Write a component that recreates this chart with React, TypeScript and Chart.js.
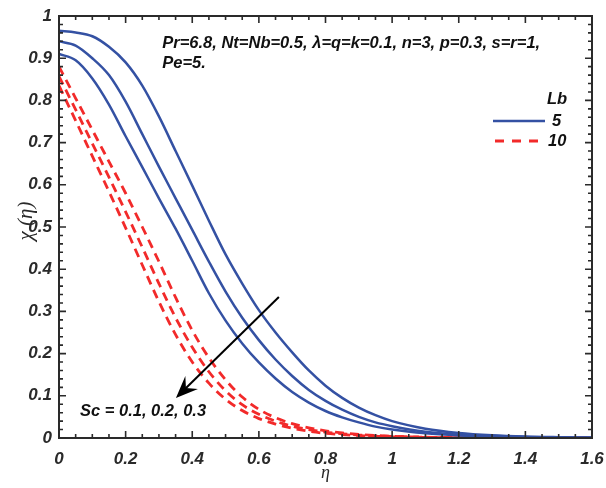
import React, { useEffect, useRef } from "react";
import { Chart, registerables } from "chart.js";

Chart.register(...registerables);

// η grid shared by every curve
const etaGrid = [
  0, 0.05, 0.1, 0.15, 0.2, 0.25, 0.3, 0.35, 0.4, 0.45, 0.5, 0.55, 0.6, 0.65, 0.7, 0.75, 0.8, 0.85, 0.9, 0.95, 1.0,
  1.1, 1.2, 1.3, 1.4, 1.5, 1.6,
];

// Lb = 5 (solid blue), Sc = 0.1, 0.2, 0.3
const lb5Sc01 = [
  0.965, 0.961, 0.952, 0.927, 0.89, 0.835, 0.762, 0.68, 0.598, 0.515, 0.435, 0.366, 0.303, 0.25, 0.203, 0.16, 0.124,
  0.095, 0.072, 0.054, 0.04, 0.022, 0.012, 0.0065, 0.0035, 0.002, 0.001,
];
const lb5Sc02 = [
  0.94, 0.93, 0.9, 0.86, 0.797, 0.72, 0.643, 0.568, 0.493, 0.418, 0.347, 0.285, 0.232, 0.186, 0.147, 0.114, 0.088,
  0.067, 0.05, 0.037, 0.028, 0.015, 0.008, 0.0045, 0.0025, 0.0013, 0.0007,
];
const lb5Sc03 = [
  0.91, 0.895, 0.852, 0.79, 0.715, 0.642, 0.568, 0.496, 0.42, 0.343, 0.278, 0.224, 0.179, 0.141, 0.109, 0.084, 0.064,
  0.049, 0.037, 0.027, 0.02, 0.011, 0.006, 0.0033, 0.0018, 0.001, 0.0005,
];

// Lb = 10 (dashed red), Sc = 0.1, 0.2, 0.3
const lb10Sc01 = [
  0.88, 0.805, 0.73, 0.655, 0.58, 0.5, 0.418, 0.333, 0.255, 0.19, 0.138, 0.097, 0.068, 0.048, 0.034, 0.024, 0.017,
  0.012, 0.0085, 0.006, 0.0042, 0.002, 0.001, 0.0005, 0.0003, 0.0002, 0.0001,
];
const lb10Sc02 = [
  0.857, 0.778, 0.698, 0.618, 0.536, 0.452, 0.366, 0.285, 0.215, 0.157, 0.112, 0.079, 0.056, 0.04, 0.028, 0.02, 0.014,
  0.01, 0.007, 0.005, 0.0035, 0.0017, 0.0008, 0.0004, 0.0002, 0.0001, 0.0001,
];
const lb10Sc03 = [
  0.835, 0.752, 0.668, 0.584, 0.498, 0.41, 0.323, 0.245, 0.18, 0.13, 0.092, 0.065, 0.046, 0.033, 0.023, 0.016, 0.011,
  0.008, 0.0057, 0.004, 0.0028, 0.0014, 0.0007, 0.0003, 0.0002, 0.0001, 0,
];

const xTicks = [0, 0.2, 0.4, 0.6, 0.8, 1, 1.2, 1.4, 1.6];
const yTicks = [0, 0.1, 0.2, 0.3, 0.4, 0.5, 0.6, 0.7, 0.8, 0.9, 1];

const paramLine1 = "Pr=6.8, Nt=Nb=0.5, \u03bb=q=k=0.1, n=3, p=0.3, s=r=1,";
const paramLine2 = "Pe=5.";
const arrowLabel = "Sc = 0.1, 0.2, 0.3";
const legendTitle = "Lb";
const legendLabels = ["5", "10"];

const BLUE = "#3451a3";
const RED = "#f22a2a";
const INK = "#2a2a2a";
const ANN_FONT = "italic bold 16.5px 'Liberation Sans', Arial, sans-serif";
const TICK_FONT = { family: "'Liberation Sans', Arial, sans-serif", size: 17, style: "italic" as const, weight: "bold" as const };

const toPts = (vals: number[]) => vals.map((v, i) => ({ x: etaGrid[i], y: v }));
const fmt = (v: number) => String(Math.round(v * 10) / 10);

const framePlugin = {
  id: "frame",
  afterDraw(chart: any) {
    const { ctx, chartArea: a, scales } = chart;
    const xs = scales.x;
    const ys = scales.y;
    ctx.save();
    // box
    ctx.strokeStyle = INK;
    ctx.lineWidth = 2;
    ctx.strokeRect(a.left, a.top, a.right - a.left, a.bottom - a.top);
    // inward ticks
    ctx.lineWidth = 1.6;
    for (let k = 0; k <= 32; k++) {
      const px = xs.getPixelForValue(k * 0.05);
      const len = k % 4 === 0 ? 7 : 4;
      ctx.beginPath();
      ctx.moveTo(px, a.bottom);
      ctx.lineTo(px, a.bottom - len);
      ctx.moveTo(px, a.top);
      ctx.lineTo(px, a.top + len);
      ctx.stroke();
    }
    for (let k = 0; k <= 50; k++) {
      const py = ys.getPixelForValue(k * 0.02);
      const len = k % 5 === 0 ? 7 : 4;
      ctx.beginPath();
      ctx.moveTo(a.left, py);
      ctx.lineTo(a.left + len, py);
      ctx.moveTo(a.right, py);
      ctx.lineTo(a.right - len, py);
      ctx.stroke();
    }
    // axis titles
    ctx.fillStyle = INK;
    ctx.font = "italic 18px 'Liberation Serif', 'Times New Roman', serif";
    ctx.textAlign = "center";
    ctx.textBaseline = "middle";
    ctx.fillText("\u03b7", (a.left + a.right) / 2, 473);
    ctx.save();
    ctx.font = "italic 21px 'Liberation Serif', 'Times New Roman', serif";
    ctx.translate(26, 221);
    ctx.rotate(-Math.PI / 2);
    ctx.fillText("\u03c7 (\u03b7)", 0, 0);
    ctx.restore();

    // parameter annotation
    ctx.fillStyle = "#111";
    ctx.font = ANN_FONT;
    ctx.textAlign = "left";
    ctx.textBaseline = "middle";
    const ax = xs.getPixelForValue(0.31);
    ctx.fillText(paramLine1, ax, ys.getPixelForValue(0.935));
    ctx.fillText(paramLine2, ax, ys.getPixelForValue(0.887));

    // legend
    ctx.fillText(legendTitle, 547, 99);
    ctx.lineWidth = 2.5;
    ctx.strokeStyle = BLUE;
    ctx.beginPath();
    ctx.moveTo(493, 121);
    ctx.lineTo(545, 121);
    ctx.stroke();
    ctx.fillText(legendLabels[0], 552, 121);
    ctx.strokeStyle = RED;
    ctx.lineWidth = 2.8;
    ctx.setLineDash([9, 8]);
    ctx.beginPath();
    ctx.moveTo(495, 141);
    ctx.lineTo(541, 141);
    ctx.stroke();
    ctx.setLineDash([]);
    ctx.fillText(legendLabels[1], 548, 141);

    // arrow
    const x0 = xs.getPixelForValue(0.66);
    const y0 = ys.getPixelForValue(0.334);
    const x1 = xs.getPixelForValue(0.351);
    const y1 = ys.getPixelForValue(0.095);
    const ang = Math.atan2(y1 - y0, x1 - x0);
    ctx.strokeStyle = "#000";
    ctx.fillStyle = "#000";
    ctx.lineWidth = 2;
    ctx.beginPath();
    ctx.moveTo(x0, y0);
    ctx.lineTo(x1 - 12 * Math.cos(ang), y1 - 12 * Math.sin(ang));
    ctx.stroke();
    const hl = 22;
    const hw = 9;
    const bx = x1 - hl * Math.cos(ang);
    const by = y1 - hl * Math.sin(ang);
    const nx = -Math.sin(ang);
    const ny = Math.cos(ang);
    ctx.beginPath();
    ctx.moveTo(x1, y1);
    ctx.lineTo(bx + nx * hw, by + ny * hw);
    ctx.lineTo(x1 - 14 * Math.cos(ang), y1 - 14 * Math.sin(ang));
    ctx.lineTo(bx - nx * hw, by - ny * hw);
    ctx.closePath();
    ctx.fill();

    ctx.fillStyle = "#111";
    ctx.font = ANN_FONT;
    ctx.textAlign = "left";
    ctx.fillText(arrowLabel, 80, 411);
    ctx.restore();
  },
};

export default function App() {
  const ref = useRef<HTMLCanvasElement | null>(null);
  useEffect(() => {
    document.body.style.margin = "0";
    const canvas = ref.current;
    if (!canvas) return;
    const blueDs = (vals: number[]) => ({
      data: toPts(vals),
      borderColor: BLUE,
      borderWidth: 2.5,
      pointRadius: 0,
      fill: false,
      cubicInterpolationMode: "monotone" as const,
    });
    const redDs = (vals: number[]) => ({
      data: toPts(vals),
      borderColor: RED,
      borderWidth: 2.8,
      borderDash: [9, 6],
      pointRadius: 0,
      fill: false,
      cubicInterpolationMode: "monotone" as const,
    });
    const chart = new Chart(canvas, {
      type: "line",
      data: {
        datasets: [
          blueDs(lb5Sc01),
          blueDs(lb5Sc02),
          blueDs(lb5Sc03),
          redDs(lb10Sc01),
          redDs(lb10Sc02),
          redDs(lb10Sc03),
        ],
      },
      options: {
        animation: false,
        responsive: false,
        devicePixelRatio: 1,
        layout: { padding: { top: 16, right: 14, left: 0, bottom: 0 } },
        plugins: { legend: { display: false }, tooltip: { enabled: false } },
        scales: {
          x: {
            type: "linear",
            min: 0,
            max: 1.6,
            afterFit: (s: any) => {
              s.height = 50;
              s.paddingLeft = 0;
              s.paddingRight = 0;
            },
            afterBuildTicks: (s: any) => {
              s.ticks = xTicks.map((v) => ({ value: v }));
            },
            grid: { display: false, drawTicks: false },
            border: { display: false },
            ticks: { color: INK, font: TICK_FONT, padding: 11, maxRotation: 0, callback: (v: any) => fmt(Number(v)) },
          },
          y: {
            type: "linear",
            min: 0,
            max: 1,
            afterFit: (s: any) => {
              s.width = 59;
              s.paddingTop = 0;
              s.paddingBottom = 0;
            },
            afterBuildTicks: (s: any) => {
              s.ticks = yTicks.map((v) => ({ value: v }));
            },
            grid: { display: false, drawTicks: false },
            border: { display: false },
            ticks: { color: INK, font: TICK_FONT, padding: 7, callback: (v: any) => fmt(Number(v)) },
          },
        },
      },
      plugins: [framePlugin],
    });
    return () => chart.destroy();
  }, []);
  return <canvas ref={ref} width={606} height={488} style={{ display: "block" }} />;
}
